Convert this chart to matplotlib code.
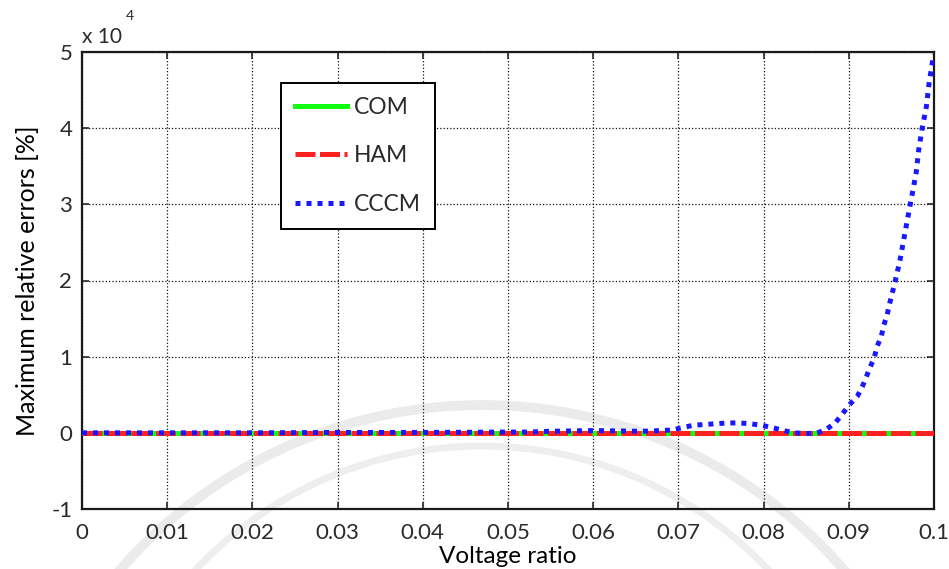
import matplotlib
matplotlib.use('Agg')
from matplotlib import pyplot as plt
from matplotlib.patches import Arc

# voltage ratio axis and error curves (errors in units of 1e4 %)
ratio_flat = [0.0, 0.1]
com_err = [0.0, 0.0]
ham_err = [0.0, 0.0]

ratio_cccm = [0.0, 0.01, 0.02, 0.03, 0.04, 0.05, 0.0524, 0.0549, 0.0602, 0.0655,
              0.0682, 0.0694, 0.0705, 0.0718, 0.0731, 0.0745, 0.0758, 0.0771,
              0.0784, 0.0797, 0.0810, 0.0823, 0.0836, 0.0850, 0.0863, 0.0873,
              0.0884, 0.0892, 0.0900, 0.0910, 0.0916, 0.0920, 0.0925, 0.0930,
              0.0933, 0.0938, 0.0941, 0.0945, 0.0948, 0.0954, 0.0960, 0.0965,
              0.0972, 0.0979, 0.0982, 0.0986, 0.0991, 0.0994, 0.0998, 0.1]
cccm_err = [0.0, 0.0, 0.0, 0.005, 0.005, 0.01, 0.01, 0.02, 0.03, 0.02,
            0.03, 0.04, 0.07, 0.10, 0.11, 0.12, 0.13, 0.13,
            0.12, 0.10, 0.07, 0.03, 0.0, -0.01, 0.0, 0.04,
            0.13, 0.24, 0.36, 0.48, 0.61, 0.72, 0.86, 0.99,
            1.13, 1.26, 1.41, 1.55, 1.70, 1.97, 2.26, 2.57,
            2.99, 3.41, 3.71, 3.99, 4.28, 4.57, 4.86, 4.97]

x_ticks = [0, 0.01, 0.02, 0.03, 0.04, 0.05, 0.06, 0.07, 0.08, 0.09, 0.1]
x_labels = ['0', '0.01', '0.02', '0.03', '0.04', '0.05', '0.06', '0.07', '0.08', '0.09', '0.1']
y_ticks = [-1, 0, 1, 2, 3, 4, 5]

plt.rcParams['font.family'] = ['Lato', 'DejaVu Sans']
plt.rcParams['axes.unicode_minus'] = False
txt = '#2a2a2a'

fig = plt.figure(figsize=(9.49, 5.69), dpi=100)

# faint watermark arcs behind the plot
bg = fig.add_axes([0, 0, 1, 1], zorder=-1)
bg.set_xlim(0, 949)
bg.set_ylim(569, 0)
bg.axis('off')
bg.add_patch(Arc((482, 885), 960, 960, theta1=180, theta2=360, color='#ebebeb', lw=7))
bg.add_patch(Arc((482, 839), 786, 786, theta1=180, theta2=360, color='#eeeeee', lw=5))

ax = fig.add_axes([82 / 949, 1 - 509 / 569, 852 / 949, 457 / 569])
ax.patch.set_alpha(0)

ax.plot(ratio_flat, com_err, color='#10ff10', lw=3.6, label='COM', zorder=3)
ax.plot(ratio_flat, ham_err, color='#ff2020', lw=3.6, dashes=(4, 0.9), label='HAM', zorder=4)
ax.plot(ratio_cccm, cccm_err, color='#1818ff', lw=3.6, dashes=(1, 1.2), label='CCCM', zorder=5)

ax.set_xlim(0, 0.1)
ax.set_ylim(-1, 5)
ax.set_xticks(x_ticks)
ax.set_xticklabels(x_labels)
ax.set_yticks(y_ticks)
ax.grid(True, color='#111111', ls=':', lw=0.9)
ax.tick_params(direction='in', length=5, width=1.2, top=True, right=True,
               labelsize=16, colors=txt)
ax.tick_params(axis='x', pad=10)
ax.tick_params(axis='y', pad=7)
for s in ax.spines.values():
    s.set_linewidth(1.6)
    s.set_color('#1a1a1a')

ax.set_xlabel('Voltage ratio', fontsize=17.5, color='black', va='bottom')
ax.xaxis.set_label_coords(0.5, -(567 - 509) / 457)
ax.set_ylabel('Maximum relative errors [%]', fontsize=18, color='black', labelpad=9)

fig.text(82 / 949, 1 - 37 / 569, 'x 10', fontsize=15, color=txt, va='center', ha='left')
fig.text(126 / 949, 1 - 16 / 569, '4', fontsize=10, color=txt, va='center', ha='left')

leg = ax.legend(loc='upper left', bbox_to_anchor=(199 / 852, 426 / 457), fontsize=16.5,
                handlelength=2.3, handletextpad=0.3, labelspacing=1.2,
                borderpad=0.6, fancybox=False, framealpha=1, borderaxespad=0)
leg.get_frame().set_edgecolor('black')
leg.get_frame().set_linewidth(1.4)
for t in leg.get_texts():
    t.set_color(txt)

fig.savefig('out.png', dpi=100)
